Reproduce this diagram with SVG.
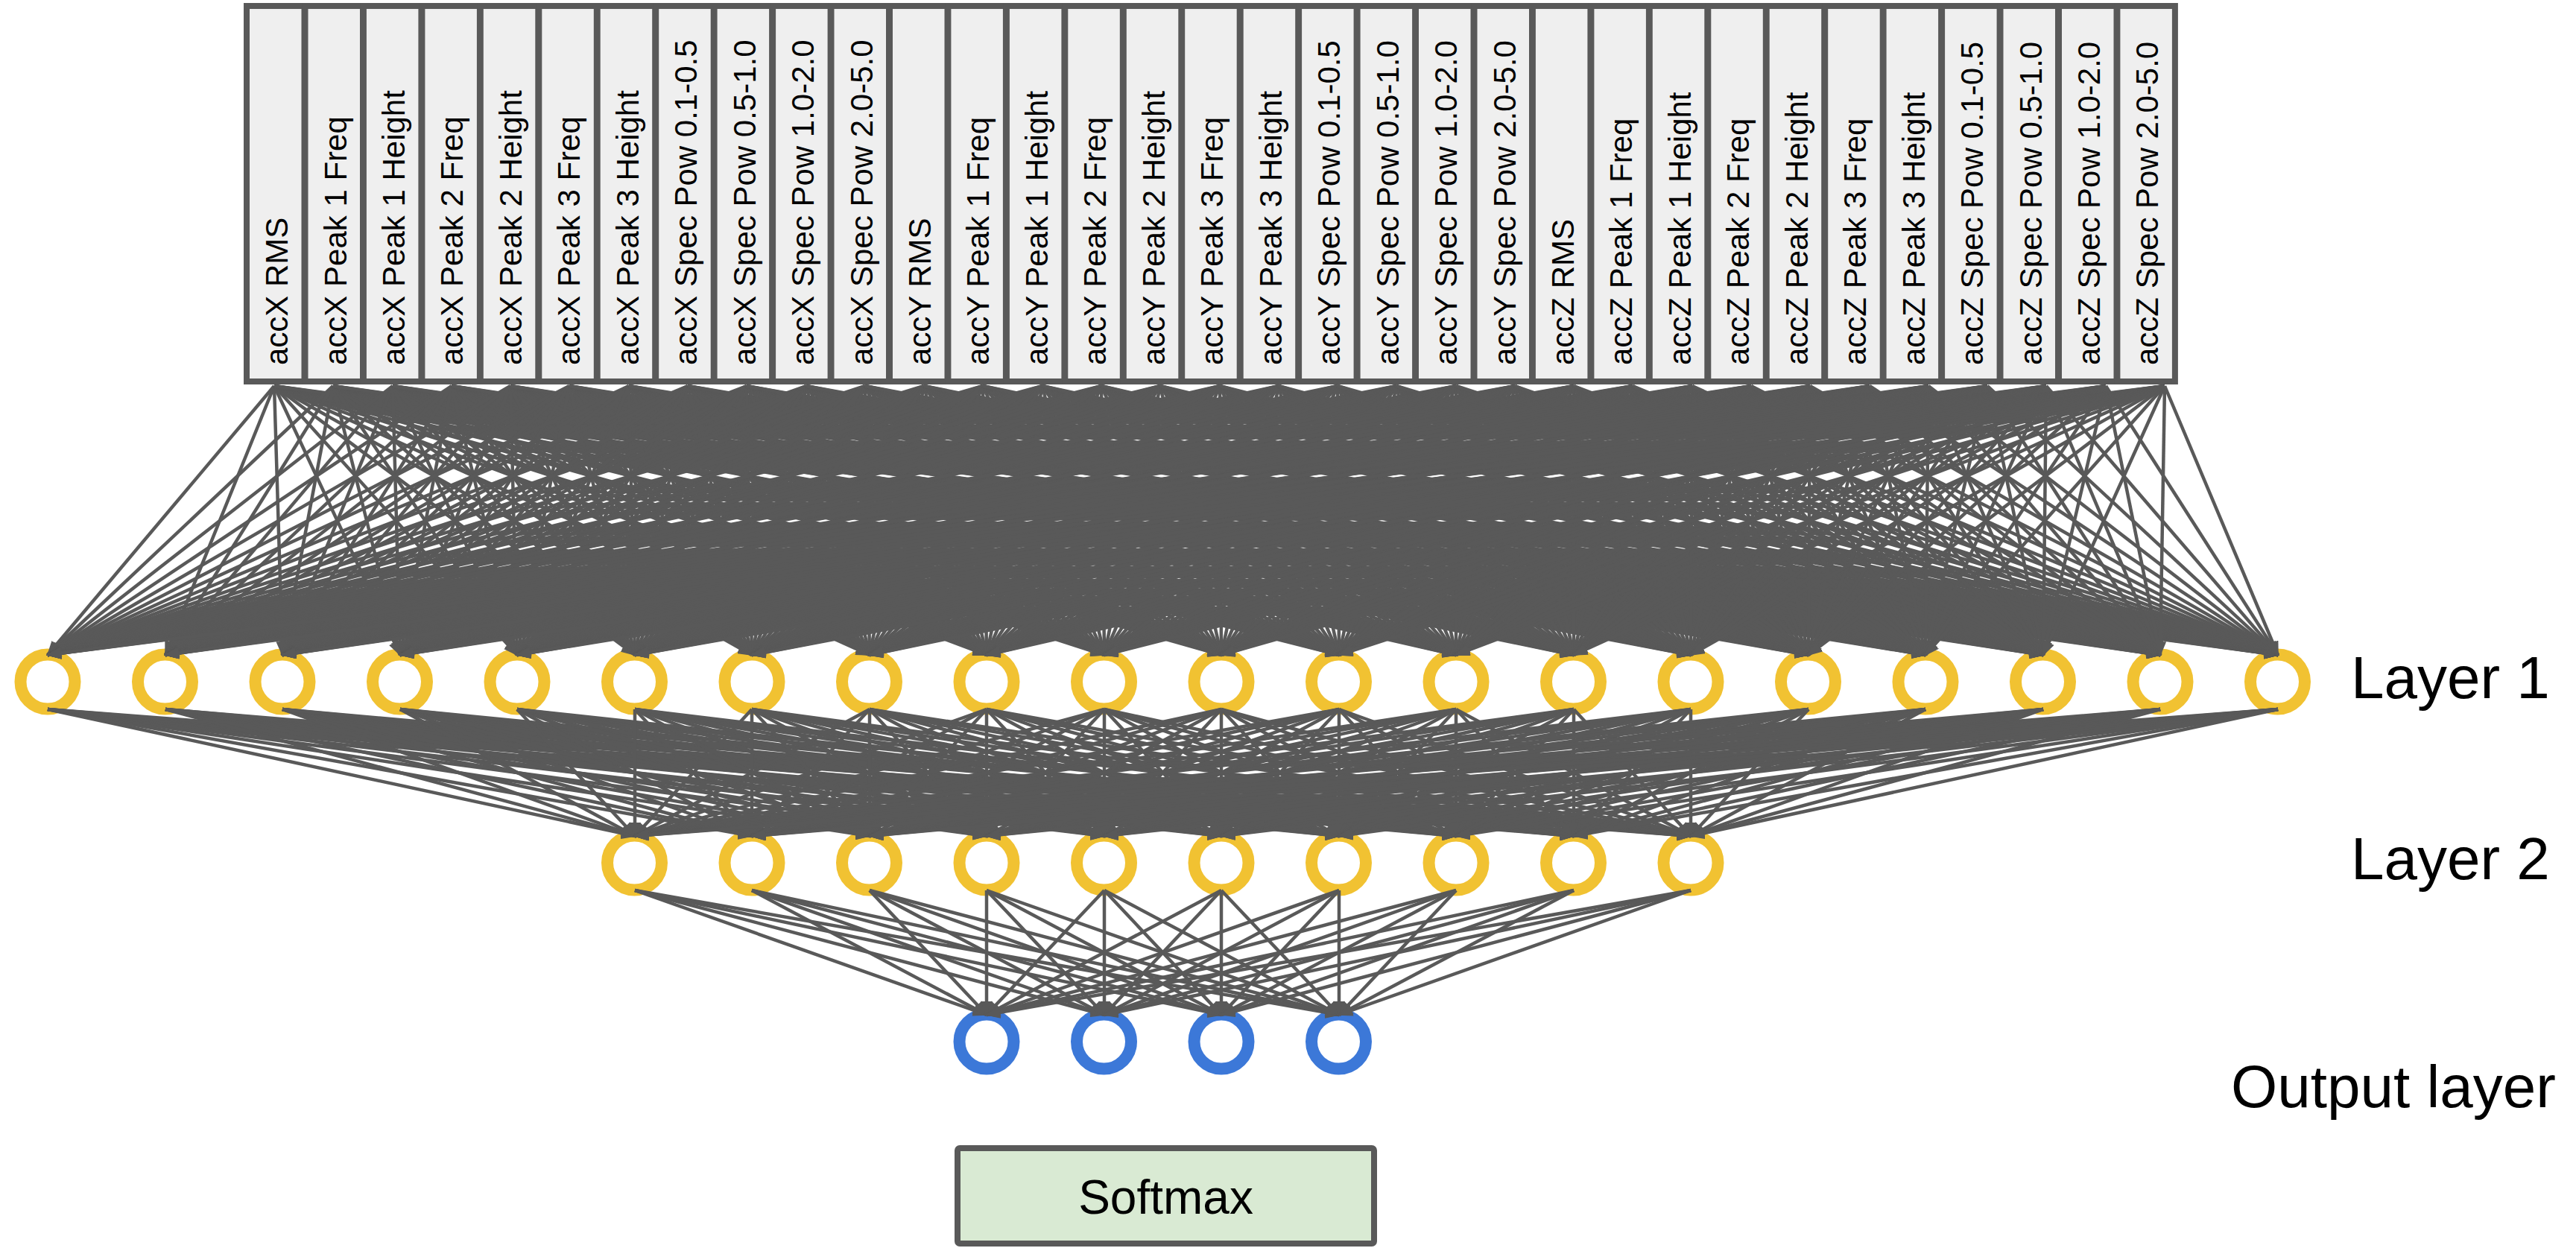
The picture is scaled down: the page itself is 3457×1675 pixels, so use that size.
<svg xmlns="http://www.w3.org/2000/svg" width="3457" height="1675" viewBox="0 0 3457 1675">
<style>
.in rect{fill:#efefef;stroke:#595959;stroke-width:8}
.in text{font-family:"Liberation Sans",Arial,sans-serif;font-size:42px;fill:#000}
.y circle{fill:none;stroke:#f1c232;stroke-width:16}
.b circle{fill:none;stroke:#3c78d8;stroke-width:16}
.lbl{font-family:"Liberation Sans",Arial,sans-serif;font-size:80px;fill:#000}
#edges path{fill:none;stroke:#595959;stroke-width:4.5;marker-end:url(#ah)}
</style>
<defs>
<marker id="ah" viewBox="0 0 20 16" refX="18" refY="8" markerWidth="20" markerHeight="16" markerUnits="userSpaceOnUse" orient="auto"><path d="M0 0L20 8L0 16z" fill="#595959"/></marker>
</defs>
<rect width="3457" height="1675" fill="#fff"/>
<g id="inputs" class="in">
<g id="in0" transform="translate(331 8)"><rect width="77.5" height="504"/><text transform="translate(55 482) rotate(-90)">accX RMS</text></g>
<g id="in1" transform="translate(409.5 8)"><rect width="77.5" height="504"/><text transform="translate(55 482) rotate(-90)">accX Peak 1 Freq</text></g>
<g id="in2" transform="translate(487.9 8)"><rect width="77.5" height="504"/><text transform="translate(55 482) rotate(-90)">accX Peak 1 Height</text></g>
<g id="in3" transform="translate(566.4 8)"><rect width="77.5" height="504"/><text transform="translate(55 482) rotate(-90)">accX Peak 2 Freq</text></g>
<g id="in4" transform="translate(644.8 8)"><rect width="77.5" height="504"/><text transform="translate(55 482) rotate(-90)">accX Peak 2 Height</text></g>
<g id="in5" transform="translate(723.3 8)"><rect width="77.5" height="504"/><text transform="translate(55 482) rotate(-90)">accX Peak 3 Freq</text></g>
<g id="in6" transform="translate(801.7 8)"><rect width="77.5" height="504"/><text transform="translate(55 482) rotate(-90)">accX Peak 3 Height</text></g>
<g id="in7" transform="translate(880.2 8)"><rect width="77.5" height="504"/><text transform="translate(55 482) rotate(-90)">accX Spec Pow 0.1-0.5</text></g>
<g id="in8" transform="translate(958.6 8)"><rect width="77.5" height="504"/><text transform="translate(55 482) rotate(-90)">accX Spec Pow 0.5-1.0</text></g>
<g id="in9" transform="translate(1037.1 8)"><rect width="77.5" height="504"/><text transform="translate(55 482) rotate(-90)">accX Spec Pow 1.0-2.0</text></g>
<g id="in10" transform="translate(1115.5 8)"><rect width="77.5" height="504"/><text transform="translate(55 482) rotate(-90)">accX Spec Pow 2.0-5.0</text></g>
<g id="in11" transform="translate(1194 8)"><rect width="77.5" height="504"/><text transform="translate(55 482) rotate(-90)">accY RMS</text></g>
<g id="in12" transform="translate(1272.4 8)"><rect width="77.5" height="504"/><text transform="translate(55 482) rotate(-90)">accY Peak 1 Freq</text></g>
<g id="in13" transform="translate(1350.9 8)"><rect width="77.5" height="504"/><text transform="translate(55 482) rotate(-90)">accY Peak 1 Height</text></g>
<g id="in14" transform="translate(1429.3 8)"><rect width="77.5" height="504"/><text transform="translate(55 482) rotate(-90)">accY Peak 2 Freq</text></g>
<g id="in15" transform="translate(1507.8 8)"><rect width="77.5" height="504"/><text transform="translate(55 482) rotate(-90)">accY Peak 2 Height</text></g>
<g id="in16" transform="translate(1586.2 8)"><rect width="77.5" height="504"/><text transform="translate(55 482) rotate(-90)">accY Peak 3 Freq</text></g>
<g id="in17" transform="translate(1664.7 8)"><rect width="77.5" height="504"/><text transform="translate(55 482) rotate(-90)">accY Peak 3 Height</text></g>
<g id="in18" transform="translate(1743.1 8)"><rect width="77.5" height="504"/><text transform="translate(55 482) rotate(-90)">accY Spec Pow 0.1-0.5</text></g>
<g id="in19" transform="translate(1821.6 8)"><rect width="77.5" height="504"/><text transform="translate(55 482) rotate(-90)">accY Spec Pow 0.5-1.0</text></g>
<g id="in20" transform="translate(1900 8)"><rect width="77.5" height="504"/><text transform="translate(55 482) rotate(-90)">accY Spec Pow 1.0-2.0</text></g>
<g id="in21" transform="translate(1978.5 8)"><rect width="77.5" height="504"/><text transform="translate(55 482) rotate(-90)">accY Spec Pow 2.0-5.0</text></g>
<g id="in22" transform="translate(2056.9 8)"><rect width="77.5" height="504"/><text transform="translate(55 482) rotate(-90)">accZ RMS</text></g>
<g id="in23" transform="translate(2135.4 8)"><rect width="77.5" height="504"/><text transform="translate(55 482) rotate(-90)">accZ Peak 1 Freq</text></g>
<g id="in24" transform="translate(2213.8 8)"><rect width="77.5" height="504"/><text transform="translate(55 482) rotate(-90)">accZ Peak 1 Height</text></g>
<g id="in25" transform="translate(2292.3 8)"><rect width="77.5" height="504"/><text transform="translate(55 482) rotate(-90)">accZ Peak 2 Freq</text></g>
<g id="in26" transform="translate(2370.7 8)"><rect width="77.5" height="504"/><text transform="translate(55 482) rotate(-90)">accZ Peak 2 Height</text></g>
<g id="in27" transform="translate(2449.2 8)"><rect width="77.5" height="504"/><text transform="translate(55 482) rotate(-90)">accZ Peak 3 Freq</text></g>
<g id="in28" transform="translate(2527.6 8)"><rect width="77.5" height="504"/><text transform="translate(55 482) rotate(-90)">accZ Peak 3 Height</text></g>
<g id="in29" transform="translate(2606.1 8)"><rect width="77.5" height="504"/><text transform="translate(55 482) rotate(-90)">accZ Spec Pow 0.1-0.5</text></g>
<g id="in30" transform="translate(2684.5 8)"><rect width="77.5" height="504"/><text transform="translate(55 482) rotate(-90)">accZ Spec Pow 0.5-1.0</text></g>
<g id="in31" transform="translate(2763 8)"><rect width="77.5" height="504"/><text transform="translate(55 482) rotate(-90)">accZ Spec Pow 1.0-2.0</text></g>
<g id="in32" transform="translate(2841.4 8)"><rect width="77.5" height="504"/><text transform="translate(55 482) rotate(-90)">accZ Spec Pow 2.0-5.0</text></g>
</g>
<g id="layer1" class="y">
<g id="h1_0"><circle cx="64" cy="915" r="36.5"/></g>
<g id="h1_1"><circle cx="221.5" cy="915" r="36.5"/></g>
<g id="h1_2"><circle cx="379" cy="915" r="36.5"/></g>
<g id="h1_3"><circle cx="536.5" cy="915" r="36.5"/></g>
<g id="h1_4"><circle cx="694" cy="915" r="36.5"/></g>
<g id="h1_5"><circle cx="851.5" cy="915" r="36.5"/></g>
<g id="h1_6"><circle cx="1009" cy="915" r="36.5"/></g>
<g id="h1_7"><circle cx="1166.5" cy="915" r="36.5"/></g>
<g id="h1_8"><circle cx="1324" cy="915" r="36.5"/></g>
<g id="h1_9"><circle cx="1481.5" cy="915" r="36.5"/></g>
<g id="h1_10"><circle cx="1639" cy="915" r="36.5"/></g>
<g id="h1_11"><circle cx="1796.5" cy="915" r="36.5"/></g>
<g id="h1_12"><circle cx="1954" cy="915" r="36.5"/></g>
<g id="h1_13"><circle cx="2111.5" cy="915" r="36.5"/></g>
<g id="h1_14"><circle cx="2269" cy="915" r="36.5"/></g>
<g id="h1_15"><circle cx="2426.5" cy="915" r="36.5"/></g>
<g id="h1_16"><circle cx="2584" cy="915" r="36.5"/></g>
<g id="h1_17"><circle cx="2741.5" cy="915" r="36.5"/></g>
<g id="h1_18"><circle cx="2899" cy="915" r="36.5"/></g>
<g id="h1_19"><circle cx="3056.5" cy="915" r="36.5"/></g>
</g>
<g id="layer2" class="y">
<g id="h2_0"><circle cx="851.5" cy="1158" r="36.5"/></g>
<g id="h2_1"><circle cx="1009" cy="1158" r="36.5"/></g>
<g id="h2_2"><circle cx="1166.5" cy="1158" r="36.5"/></g>
<g id="h2_3"><circle cx="1324" cy="1158" r="36.5"/></g>
<g id="h2_4"><circle cx="1481.5" cy="1158" r="36.5"/></g>
<g id="h2_5"><circle cx="1639" cy="1158" r="36.5"/></g>
<g id="h2_6"><circle cx="1796.5" cy="1158" r="36.5"/></g>
<g id="h2_7"><circle cx="1954" cy="1158" r="36.5"/></g>
<g id="h2_8"><circle cx="2111.5" cy="1158" r="36.5"/></g>
<g id="h2_9"><circle cx="2269" cy="1158" r="36.5"/></g>
</g>
<g id="outputs" class="b">
<g id="o0"><circle cx="1324" cy="1398" r="36.5"/></g>
<g id="o1"><circle cx="1481.5" cy="1398" r="36.5"/></g>
<g id="o2"><circle cx="1639" cy="1398" r="36.5"/></g>
<g id="o3"><circle cx="1796.5" cy="1398" r="36.5"/></g>
</g>
<g id="softmax"><rect x="1285" y="1541" width="559" height="128" rx="3" fill="#d9ead3" stroke="#595959" stroke-width="8"/><text x="1564.5" y="1629" text-anchor="middle" font-family="Liberation Sans, Arial, sans-serif" font-size="64">Softmax</text></g>
<g id="labels">
<text class="lbl" x="3155" y="937">Layer 1</text>
<text class="lbl" x="3155" y="1180">Layer 2</text>
<text class="lbl" x="2994" y="1486">Output layer</text>
</g>
<g id="edges">
<path d="M368 518L64 879"/><path d="M368 518L222 879"/><path d="M368 518L379 879"/><path d="M368 518L537 879"/><path d="M368 518L694 879"/><path d="M368 518L852 879"/><path d="M368 518L1009 879"/><path d="M368 518L1167 879"/><path d="M368 518L1324 879"/><path d="M368 518L1482 879"/><path d="M368 518L1639 879"/><path d="M368 518L1797 879"/><path d="M368 518L1954 879"/><path d="M368 518L2112 879"/><path d="M368 518L2269 879"/><path d="M368 518L2427 879"/><path d="M368 518L2584 879"/><path d="M368 518L2742 879"/><path d="M368 518L2899 879"/><path d="M368 518L3057 879"/>
<path d="M447 518L64 879"/><path d="M447 518L222 879"/><path d="M447 518L379 879"/><path d="M447 518L537 879"/><path d="M447 518L694 879"/><path d="M447 518L852 879"/><path d="M447 518L1009 879"/><path d="M447 518L1167 879"/><path d="M447 518L1324 879"/><path d="M447 518L1482 879"/><path d="M447 518L1639 879"/><path d="M447 518L1797 879"/><path d="M447 518L1954 879"/><path d="M447 518L2112 879"/><path d="M447 518L2269 879"/><path d="M447 518L2427 879"/><path d="M447 518L2584 879"/><path d="M447 518L2742 879"/><path d="M447 518L2899 879"/><path d="M447 518L3057 879"/>
<path d="M527 518L64 879"/><path d="M527 518L222 879"/><path d="M527 518L379 879"/><path d="M527 518L537 879"/><path d="M527 518L694 879"/><path d="M527 518L852 879"/><path d="M527 518L1009 879"/><path d="M527 518L1167 879"/><path d="M527 518L1324 879"/><path d="M527 518L1482 879"/><path d="M527 518L1639 879"/><path d="M527 518L1797 879"/><path d="M527 518L1954 879"/><path d="M527 518L2112 879"/><path d="M527 518L2269 879"/><path d="M527 518L2427 879"/><path d="M527 518L2584 879"/><path d="M527 518L2742 879"/><path d="M527 518L2899 879"/><path d="M527 518L3057 879"/>
<path d="M606 518L64 879"/><path d="M606 518L222 879"/><path d="M606 518L379 879"/><path d="M606 518L537 879"/><path d="M606 518L694 879"/><path d="M606 518L852 879"/><path d="M606 518L1009 879"/><path d="M606 518L1167 879"/><path d="M606 518L1324 879"/><path d="M606 518L1482 879"/><path d="M606 518L1639 879"/><path d="M606 518L1797 879"/><path d="M606 518L1954 879"/><path d="M606 518L2112 879"/><path d="M606 518L2269 879"/><path d="M606 518L2427 879"/><path d="M606 518L2584 879"/><path d="M606 518L2742 879"/><path d="M606 518L2899 879"/><path d="M606 518L3057 879"/>
<path d="M685 518L64 879"/><path d="M685 518L222 879"/><path d="M685 518L379 879"/><path d="M685 518L537 879"/><path d="M685 518L694 879"/><path d="M685 518L852 879"/><path d="M685 518L1009 879"/><path d="M685 518L1167 879"/><path d="M685 518L1324 879"/><path d="M685 518L1482 879"/><path d="M685 518L1639 879"/><path d="M685 518L1797 879"/><path d="M685 518L1954 879"/><path d="M685 518L2112 879"/><path d="M685 518L2269 879"/><path d="M685 518L2427 879"/><path d="M685 518L2584 879"/><path d="M685 518L2742 879"/><path d="M685 518L2899 879"/><path d="M685 518L3057 879"/>
<path d="M764 518L64 879"/><path d="M764 518L222 879"/><path d="M764 518L379 879"/><path d="M764 518L537 879"/><path d="M764 518L694 879"/><path d="M764 518L852 879"/><path d="M764 518L1009 879"/><path d="M764 518L1167 879"/><path d="M764 518L1324 879"/><path d="M764 518L1482 879"/><path d="M764 518L1639 879"/><path d="M764 518L1797 879"/><path d="M764 518L1954 879"/><path d="M764 518L2112 879"/><path d="M764 518L2269 879"/><path d="M764 518L2427 879"/><path d="M764 518L2584 879"/><path d="M764 518L2742 879"/><path d="M764 518L2899 879"/><path d="M764 518L3057 879"/>
<path d="M844 518L64 879"/><path d="M844 518L222 879"/><path d="M844 518L379 879"/><path d="M844 518L537 879"/><path d="M844 518L694 879"/><path d="M844 518L852 879"/><path d="M844 518L1009 879"/><path d="M844 518L1167 879"/><path d="M844 518L1324 879"/><path d="M844 518L1482 879"/><path d="M844 518L1639 879"/><path d="M844 518L1797 879"/><path d="M844 518L1954 879"/><path d="M844 518L2112 879"/><path d="M844 518L2269 879"/><path d="M844 518L2427 879"/><path d="M844 518L2584 879"/><path d="M844 518L2742 879"/><path d="M844 518L2899 879"/><path d="M844 518L3057 879"/>
<path d="M923 518L64 879"/><path d="M923 518L222 879"/><path d="M923 518L379 879"/><path d="M923 518L537 879"/><path d="M923 518L694 879"/><path d="M923 518L852 879"/><path d="M923 518L1009 879"/><path d="M923 518L1167 879"/><path d="M923 518L1324 879"/><path d="M923 518L1482 879"/><path d="M923 518L1639 879"/><path d="M923 518L1797 879"/><path d="M923 518L1954 879"/><path d="M923 518L2112 879"/><path d="M923 518L2269 879"/><path d="M923 518L2427 879"/><path d="M923 518L2584 879"/><path d="M923 518L2742 879"/><path d="M923 518L2899 879"/><path d="M923 518L3057 879"/>
<path d="M1002 518L64 879"/><path d="M1002 518L222 879"/><path d="M1002 518L379 879"/><path d="M1002 518L537 879"/><path d="M1002 518L694 879"/><path d="M1002 518L852 879"/><path d="M1002 518L1009 879"/><path d="M1002 518L1167 879"/><path d="M1002 518L1324 879"/><path d="M1002 518L1482 879"/><path d="M1002 518L1639 879"/><path d="M1002 518L1797 879"/><path d="M1002 518L1954 879"/><path d="M1002 518L2112 879"/><path d="M1002 518L2269 879"/><path d="M1002 518L2427 879"/><path d="M1002 518L2584 879"/><path d="M1002 518L2742 879"/><path d="M1002 518L2899 879"/><path d="M1002 518L3057 879"/>
<path d="M1082 518L64 879"/><path d="M1082 518L222 879"/><path d="M1082 518L379 879"/><path d="M1082 518L537 879"/><path d="M1082 518L694 879"/><path d="M1082 518L852 879"/><path d="M1082 518L1009 879"/><path d="M1082 518L1167 879"/><path d="M1082 518L1324 879"/><path d="M1082 518L1482 879"/><path d="M1082 518L1639 879"/><path d="M1082 518L1797 879"/><path d="M1082 518L1954 879"/><path d="M1082 518L2112 879"/><path d="M1082 518L2269 879"/><path d="M1082 518L2427 879"/><path d="M1082 518L2584 879"/><path d="M1082 518L2742 879"/><path d="M1082 518L2899 879"/><path d="M1082 518L3057 879"/>
<path d="M1161 518L64 879"/><path d="M1161 518L222 879"/><path d="M1161 518L379 879"/><path d="M1161 518L537 879"/><path d="M1161 518L694 879"/><path d="M1161 518L852 879"/><path d="M1161 518L1009 879"/><path d="M1161 518L1167 879"/><path d="M1161 518L1324 879"/><path d="M1161 518L1482 879"/><path d="M1161 518L1639 879"/><path d="M1161 518L1797 879"/><path d="M1161 518L1954 879"/><path d="M1161 518L2112 879"/><path d="M1161 518L2269 879"/><path d="M1161 518L2427 879"/><path d="M1161 518L2584 879"/><path d="M1161 518L2742 879"/><path d="M1161 518L2899 879"/><path d="M1161 518L3057 879"/>
<path d="M1240 518L64 879"/><path d="M1240 518L222 879"/><path d="M1240 518L379 879"/><path d="M1240 518L537 879"/><path d="M1240 518L694 879"/><path d="M1240 518L852 879"/><path d="M1240 518L1009 879"/><path d="M1240 518L1167 879"/><path d="M1240 518L1324 879"/><path d="M1240 518L1482 879"/><path d="M1240 518L1639 879"/><path d="M1240 518L1797 879"/><path d="M1240 518L1954 879"/><path d="M1240 518L2112 879"/><path d="M1240 518L2269 879"/><path d="M1240 518L2427 879"/><path d="M1240 518L2584 879"/><path d="M1240 518L2742 879"/><path d="M1240 518L2899 879"/><path d="M1240 518L3057 879"/>
<path d="M1319 518L64 879"/><path d="M1319 518L222 879"/><path d="M1319 518L379 879"/><path d="M1319 518L537 879"/><path d="M1319 518L694 879"/><path d="M1319 518L852 879"/><path d="M1319 518L1009 879"/><path d="M1319 518L1167 879"/><path d="M1319 518L1324 879"/><path d="M1319 518L1482 879"/><path d="M1319 518L1639 879"/><path d="M1319 518L1797 879"/><path d="M1319 518L1954 879"/><path d="M1319 518L2112 879"/><path d="M1319 518L2269 879"/><path d="M1319 518L2427 879"/><path d="M1319 518L2584 879"/><path d="M1319 518L2742 879"/><path d="M1319 518L2899 879"/><path d="M1319 518L3057 879"/>
<path d="M1399 518L64 879"/><path d="M1399 518L222 879"/><path d="M1399 518L379 879"/><path d="M1399 518L537 879"/><path d="M1399 518L694 879"/><path d="M1399 518L852 879"/><path d="M1399 518L1009 879"/><path d="M1399 518L1167 879"/><path d="M1399 518L1324 879"/><path d="M1399 518L1482 879"/><path d="M1399 518L1639 879"/><path d="M1399 518L1797 879"/><path d="M1399 518L1954 879"/><path d="M1399 518L2112 879"/><path d="M1399 518L2269 879"/><path d="M1399 518L2427 879"/><path d="M1399 518L2584 879"/><path d="M1399 518L2742 879"/><path d="M1399 518L2899 879"/><path d="M1399 518L3057 879"/>
<path d="M1478 518L64 879"/><path d="M1478 518L222 879"/><path d="M1478 518L379 879"/><path d="M1478 518L537 879"/><path d="M1478 518L694 879"/><path d="M1478 518L852 879"/><path d="M1478 518L1009 879"/><path d="M1478 518L1167 879"/><path d="M1478 518L1324 879"/><path d="M1478 518L1482 879"/><path d="M1478 518L1639 879"/><path d="M1478 518L1797 879"/><path d="M1478 518L1954 879"/><path d="M1478 518L2112 879"/><path d="M1478 518L2269 879"/><path d="M1478 518L2427 879"/><path d="M1478 518L2584 879"/><path d="M1478 518L2742 879"/><path d="M1478 518L2899 879"/><path d="M1478 518L3057 879"/>
<path d="M1557 518L64 879"/><path d="M1557 518L222 879"/><path d="M1557 518L379 879"/><path d="M1557 518L537 879"/><path d="M1557 518L694 879"/><path d="M1557 518L852 879"/><path d="M1557 518L1009 879"/><path d="M1557 518L1167 879"/><path d="M1557 518L1324 879"/><path d="M1557 518L1482 879"/><path d="M1557 518L1639 879"/><path d="M1557 518L1797 879"/><path d="M1557 518L1954 879"/><path d="M1557 518L2112 879"/><path d="M1557 518L2269 879"/><path d="M1557 518L2427 879"/><path d="M1557 518L2584 879"/><path d="M1557 518L2742 879"/><path d="M1557 518L2899 879"/><path d="M1557 518L3057 879"/>
<path d="M1637 518L64 879"/><path d="M1637 518L222 879"/><path d="M1637 518L379 879"/><path d="M1637 518L537 879"/><path d="M1637 518L694 879"/><path d="M1637 518L852 879"/><path d="M1637 518L1009 879"/><path d="M1637 518L1167 879"/><path d="M1637 518L1324 879"/><path d="M1637 518L1482 879"/><path d="M1637 518L1639 879"/><path d="M1637 518L1797 879"/><path d="M1637 518L1954 879"/><path d="M1637 518L2112 879"/><path d="M1637 518L2269 879"/><path d="M1637 518L2427 879"/><path d="M1637 518L2584 879"/><path d="M1637 518L2742 879"/><path d="M1637 518L2899 879"/><path d="M1637 518L3057 879"/>
<path d="M1716 518L64 879"/><path d="M1716 518L222 879"/><path d="M1716 518L379 879"/><path d="M1716 518L537 879"/><path d="M1716 518L694 879"/><path d="M1716 518L852 879"/><path d="M1716 518L1009 879"/><path d="M1716 518L1167 879"/><path d="M1716 518L1324 879"/><path d="M1716 518L1482 879"/><path d="M1716 518L1639 879"/><path d="M1716 518L1797 879"/><path d="M1716 518L1954 879"/><path d="M1716 518L2112 879"/><path d="M1716 518L2269 879"/><path d="M1716 518L2427 879"/><path d="M1716 518L2584 879"/><path d="M1716 518L2742 879"/><path d="M1716 518L2899 879"/><path d="M1716 518L3057 879"/>
<path d="M1795 518L64 879"/><path d="M1795 518L222 879"/><path d="M1795 518L379 879"/><path d="M1795 518L537 879"/><path d="M1795 518L694 879"/><path d="M1795 518L852 879"/><path d="M1795 518L1009 879"/><path d="M1795 518L1167 879"/><path d="M1795 518L1324 879"/><path d="M1795 518L1482 879"/><path d="M1795 518L1639 879"/><path d="M1795 518L1797 879"/><path d="M1795 518L1954 879"/><path d="M1795 518L2112 879"/><path d="M1795 518L2269 879"/><path d="M1795 518L2427 879"/><path d="M1795 518L2584 879"/><path d="M1795 518L2742 879"/><path d="M1795 518L2899 879"/><path d="M1795 518L3057 879"/>
<path d="M1874 518L64 879"/><path d="M1874 518L222 879"/><path d="M1874 518L379 879"/><path d="M1874 518L537 879"/><path d="M1874 518L694 879"/><path d="M1874 518L852 879"/><path d="M1874 518L1009 879"/><path d="M1874 518L1167 879"/><path d="M1874 518L1324 879"/><path d="M1874 518L1482 879"/><path d="M1874 518L1639 879"/><path d="M1874 518L1797 879"/><path d="M1874 518L1954 879"/><path d="M1874 518L2112 879"/><path d="M1874 518L2269 879"/><path d="M1874 518L2427 879"/><path d="M1874 518L2584 879"/><path d="M1874 518L2742 879"/><path d="M1874 518L2899 879"/><path d="M1874 518L3057 879"/>
<path d="M1954 518L64 879"/><path d="M1954 518L222 879"/><path d="M1954 518L379 879"/><path d="M1954 518L537 879"/><path d="M1954 518L694 879"/><path d="M1954 518L852 879"/><path d="M1954 518L1009 879"/><path d="M1954 518L1167 879"/><path d="M1954 518L1324 879"/><path d="M1954 518L1482 879"/><path d="M1954 518L1639 879"/><path d="M1954 518L1797 879"/><path d="M1954 518L1954 879"/><path d="M1954 518L2112 879"/><path d="M1954 518L2269 879"/><path d="M1954 518L2427 879"/><path d="M1954 518L2584 879"/><path d="M1954 518L2742 879"/><path d="M1954 518L2899 879"/><path d="M1954 518L3057 879"/>
<path d="M2033 518L64 879"/><path d="M2033 518L222 879"/><path d="M2033 518L379 879"/><path d="M2033 518L537 879"/><path d="M2033 518L694 879"/><path d="M2033 518L852 879"/><path d="M2033 518L1009 879"/><path d="M2033 518L1167 879"/><path d="M2033 518L1324 879"/><path d="M2033 518L1482 879"/><path d="M2033 518L1639 879"/><path d="M2033 518L1797 879"/><path d="M2033 518L1954 879"/><path d="M2033 518L2112 879"/><path d="M2033 518L2269 879"/><path d="M2033 518L2427 879"/><path d="M2033 518L2584 879"/><path d="M2033 518L2742 879"/><path d="M2033 518L2899 879"/><path d="M2033 518L3057 879"/>
<path d="M2112 518L64 879"/><path d="M2112 518L222 879"/><path d="M2112 518L379 879"/><path d="M2112 518L537 879"/><path d="M2112 518L694 879"/><path d="M2112 518L852 879"/><path d="M2112 518L1009 879"/><path d="M2112 518L1167 879"/><path d="M2112 518L1324 879"/><path d="M2112 518L1482 879"/><path d="M2112 518L1639 879"/><path d="M2112 518L1797 879"/><path d="M2112 518L1954 879"/><path d="M2112 518L2112 879"/><path d="M2112 518L2269 879"/><path d="M2112 518L2427 879"/><path d="M2112 518L2584 879"/><path d="M2112 518L2742 879"/><path d="M2112 518L2899 879"/><path d="M2112 518L3057 879"/>
<path d="M2191 518L64 879"/><path d="M2191 518L222 879"/><path d="M2191 518L379 879"/><path d="M2191 518L537 879"/><path d="M2191 518L694 879"/><path d="M2191 518L852 879"/><path d="M2191 518L1009 879"/><path d="M2191 518L1167 879"/><path d="M2191 518L1324 879"/><path d="M2191 518L1482 879"/><path d="M2191 518L1639 879"/><path d="M2191 518L1797 879"/><path d="M2191 518L1954 879"/><path d="M2191 518L2112 879"/><path d="M2191 518L2269 879"/><path d="M2191 518L2427 879"/><path d="M2191 518L2584 879"/><path d="M2191 518L2742 879"/><path d="M2191 518L2899 879"/><path d="M2191 518L3057 879"/>
<path d="M2271 518L64 879"/><path d="M2271 518L222 879"/><path d="M2271 518L379 879"/><path d="M2271 518L537 879"/><path d="M2271 518L694 879"/><path d="M2271 518L852 879"/><path d="M2271 518L1009 879"/><path d="M2271 518L1167 879"/><path d="M2271 518L1324 879"/><path d="M2271 518L1482 879"/><path d="M2271 518L1639 879"/><path d="M2271 518L1797 879"/><path d="M2271 518L1954 879"/><path d="M2271 518L2112 879"/><path d="M2271 518L2269 879"/><path d="M2271 518L2427 879"/><path d="M2271 518L2584 879"/><path d="M2271 518L2742 879"/><path d="M2271 518L2899 879"/><path d="M2271 518L3057 879"/>
<path d="M2350 518L64 879"/><path d="M2350 518L222 879"/><path d="M2350 518L379 879"/><path d="M2350 518L537 879"/><path d="M2350 518L694 879"/><path d="M2350 518L852 879"/><path d="M2350 518L1009 879"/><path d="M2350 518L1167 879"/><path d="M2350 518L1324 879"/><path d="M2350 518L1482 879"/><path d="M2350 518L1639 879"/><path d="M2350 518L1797 879"/><path d="M2350 518L1954 879"/><path d="M2350 518L2112 879"/><path d="M2350 518L2269 879"/><path d="M2350 518L2427 879"/><path d="M2350 518L2584 879"/><path d="M2350 518L2742 879"/><path d="M2350 518L2899 879"/><path d="M2350 518L3057 879"/>
<path d="M2429 518L64 879"/><path d="M2429 518L222 879"/><path d="M2429 518L379 879"/><path d="M2429 518L537 879"/><path d="M2429 518L694 879"/><path d="M2429 518L852 879"/><path d="M2429 518L1009 879"/><path d="M2429 518L1167 879"/><path d="M2429 518L1324 879"/><path d="M2429 518L1482 879"/><path d="M2429 518L1639 879"/><path d="M2429 518L1797 879"/><path d="M2429 518L1954 879"/><path d="M2429 518L2112 879"/><path d="M2429 518L2269 879"/><path d="M2429 518L2427 879"/><path d="M2429 518L2584 879"/><path d="M2429 518L2742 879"/><path d="M2429 518L2899 879"/><path d="M2429 518L3057 879"/>
<path d="M2509 518L64 879"/><path d="M2509 518L222 879"/><path d="M2509 518L379 879"/><path d="M2509 518L537 879"/><path d="M2509 518L694 879"/><path d="M2509 518L852 879"/><path d="M2509 518L1009 879"/><path d="M2509 518L1167 879"/><path d="M2509 518L1324 879"/><path d="M2509 518L1482 879"/><path d="M2509 518L1639 879"/><path d="M2509 518L1797 879"/><path d="M2509 518L1954 879"/><path d="M2509 518L2112 879"/><path d="M2509 518L2269 879"/><path d="M2509 518L2427 879"/><path d="M2509 518L2584 879"/><path d="M2509 518L2742 879"/><path d="M2509 518L2899 879"/><path d="M2509 518L3057 879"/>
<path d="M2588 518L64 879"/><path d="M2588 518L222 879"/><path d="M2588 518L379 879"/><path d="M2588 518L537 879"/><path d="M2588 518L694 879"/><path d="M2588 518L852 879"/><path d="M2588 518L1009 879"/><path d="M2588 518L1167 879"/><path d="M2588 518L1324 879"/><path d="M2588 518L1482 879"/><path d="M2588 518L1639 879"/><path d="M2588 518L1797 879"/><path d="M2588 518L1954 879"/><path d="M2588 518L2112 879"/><path d="M2588 518L2269 879"/><path d="M2588 518L2427 879"/><path d="M2588 518L2584 879"/><path d="M2588 518L2742 879"/><path d="M2588 518L2899 879"/><path d="M2588 518L3057 879"/>
<path d="M2667 518L64 879"/><path d="M2667 518L222 879"/><path d="M2667 518L379 879"/><path d="M2667 518L537 879"/><path d="M2667 518L694 879"/><path d="M2667 518L852 879"/><path d="M2667 518L1009 879"/><path d="M2667 518L1167 879"/><path d="M2667 518L1324 879"/><path d="M2667 518L1482 879"/><path d="M2667 518L1639 879"/><path d="M2667 518L1797 879"/><path d="M2667 518L1954 879"/><path d="M2667 518L2112 879"/><path d="M2667 518L2269 879"/><path d="M2667 518L2427 879"/><path d="M2667 518L2584 879"/><path d="M2667 518L2742 879"/><path d="M2667 518L2899 879"/><path d="M2667 518L3057 879"/>
<path d="M2746 518L64 879"/><path d="M2746 518L222 879"/><path d="M2746 518L379 879"/><path d="M2746 518L537 879"/><path d="M2746 518L694 879"/><path d="M2746 518L852 879"/><path d="M2746 518L1009 879"/><path d="M2746 518L1167 879"/><path d="M2746 518L1324 879"/><path d="M2746 518L1482 879"/><path d="M2746 518L1639 879"/><path d="M2746 518L1797 879"/><path d="M2746 518L1954 879"/><path d="M2746 518L2112 879"/><path d="M2746 518L2269 879"/><path d="M2746 518L2427 879"/><path d="M2746 518L2584 879"/><path d="M2746 518L2742 879"/><path d="M2746 518L2899 879"/><path d="M2746 518L3057 879"/>
<path d="M2826 518L64 879"/><path d="M2826 518L222 879"/><path d="M2826 518L379 879"/><path d="M2826 518L537 879"/><path d="M2826 518L694 879"/><path d="M2826 518L852 879"/><path d="M2826 518L1009 879"/><path d="M2826 518L1167 879"/><path d="M2826 518L1324 879"/><path d="M2826 518L1482 879"/><path d="M2826 518L1639 879"/><path d="M2826 518L1797 879"/><path d="M2826 518L1954 879"/><path d="M2826 518L2112 879"/><path d="M2826 518L2269 879"/><path d="M2826 518L2427 879"/><path d="M2826 518L2584 879"/><path d="M2826 518L2742 879"/><path d="M2826 518L2899 879"/><path d="M2826 518L3057 879"/>
<path d="M2905 518L64 879"/><path d="M2905 518L222 879"/><path d="M2905 518L379 879"/><path d="M2905 518L537 879"/><path d="M2905 518L694 879"/><path d="M2905 518L852 879"/><path d="M2905 518L1009 879"/><path d="M2905 518L1167 879"/><path d="M2905 518L1324 879"/><path d="M2905 518L1482 879"/><path d="M2905 518L1639 879"/><path d="M2905 518L1797 879"/><path d="M2905 518L1954 879"/><path d="M2905 518L2112 879"/><path d="M2905 518L2269 879"/><path d="M2905 518L2427 879"/><path d="M2905 518L2584 879"/><path d="M2905 518L2742 879"/><path d="M2905 518L2899 879"/><path d="M2905 518L3057 879"/>
<path d="M64 952L852 1122"/><path d="M64 952L1009 1122"/><path d="M64 952L1167 1122"/><path d="M64 952L1324 1122"/><path d="M64 952L1482 1122"/><path d="M64 952L1639 1122"/><path d="M64 952L1797 1122"/><path d="M64 952L1954 1122"/><path d="M64 952L2112 1122"/><path d="M64 952L2269 1122"/>
<path d="M222 952L852 1122"/><path d="M222 952L1009 1122"/><path d="M222 952L1167 1122"/><path d="M222 952L1324 1122"/><path d="M222 952L1482 1122"/><path d="M222 952L1639 1122"/><path d="M222 952L1797 1122"/><path d="M222 952L1954 1122"/><path d="M222 952L2112 1122"/><path d="M222 952L2269 1122"/>
<path d="M379 952L852 1122"/><path d="M379 952L1009 1122"/><path d="M379 952L1167 1122"/><path d="M379 952L1324 1122"/><path d="M379 952L1482 1122"/><path d="M379 952L1639 1122"/><path d="M379 952L1797 1122"/><path d="M379 952L1954 1122"/><path d="M379 952L2112 1122"/><path d="M379 952L2269 1122"/>
<path d="M537 952L852 1122"/><path d="M537 952L1009 1122"/><path d="M537 952L1167 1122"/><path d="M537 952L1324 1122"/><path d="M537 952L1482 1122"/><path d="M537 952L1639 1122"/><path d="M537 952L1797 1122"/><path d="M537 952L1954 1122"/><path d="M537 952L2112 1122"/><path d="M537 952L2269 1122"/>
<path d="M694 952L852 1122"/><path d="M694 952L1009 1122"/><path d="M694 952L1167 1122"/><path d="M694 952L1324 1122"/><path d="M694 952L1482 1122"/><path d="M694 952L1639 1122"/><path d="M694 952L1797 1122"/><path d="M694 952L1954 1122"/><path d="M694 952L2112 1122"/><path d="M694 952L2269 1122"/>
<path d="M852 952L852 1122"/><path d="M852 952L1009 1122"/><path d="M852 952L1167 1122"/><path d="M852 952L1324 1122"/><path d="M852 952L1482 1122"/><path d="M852 952L1639 1122"/><path d="M852 952L1797 1122"/><path d="M852 952L1954 1122"/><path d="M852 952L2112 1122"/><path d="M852 952L2269 1122"/>
<path d="M1009 952L852 1122"/><path d="M1009 952L1009 1122"/><path d="M1009 952L1167 1122"/><path d="M1009 952L1324 1122"/><path d="M1009 952L1482 1122"/><path d="M1009 952L1639 1122"/><path d="M1009 952L1797 1122"/><path d="M1009 952L1954 1122"/><path d="M1009 952L2112 1122"/><path d="M1009 952L2269 1122"/>
<path d="M1167 952L852 1122"/><path d="M1167 952L1009 1122"/><path d="M1167 952L1167 1122"/><path d="M1167 952L1324 1122"/><path d="M1167 952L1482 1122"/><path d="M1167 952L1639 1122"/><path d="M1167 952L1797 1122"/><path d="M1167 952L1954 1122"/><path d="M1167 952L2112 1122"/><path d="M1167 952L2269 1122"/>
<path d="M1324 952L852 1122"/><path d="M1324 952L1009 1122"/><path d="M1324 952L1167 1122"/><path d="M1324 952L1324 1122"/><path d="M1324 952L1482 1122"/><path d="M1324 952L1639 1122"/><path d="M1324 952L1797 1122"/><path d="M1324 952L1954 1122"/><path d="M1324 952L2112 1122"/><path d="M1324 952L2269 1122"/>
<path d="M1482 952L852 1122"/><path d="M1482 952L1009 1122"/><path d="M1482 952L1167 1122"/><path d="M1482 952L1324 1122"/><path d="M1482 952L1482 1122"/><path d="M1482 952L1639 1122"/><path d="M1482 952L1797 1122"/><path d="M1482 952L1954 1122"/><path d="M1482 952L2112 1122"/><path d="M1482 952L2269 1122"/>
<path d="M1639 952L852 1122"/><path d="M1639 952L1009 1122"/><path d="M1639 952L1167 1122"/><path d="M1639 952L1324 1122"/><path d="M1639 952L1482 1122"/><path d="M1639 952L1639 1122"/><path d="M1639 952L1797 1122"/><path d="M1639 952L1954 1122"/><path d="M1639 952L2112 1122"/><path d="M1639 952L2269 1122"/>
<path d="M1797 952L852 1122"/><path d="M1797 952L1009 1122"/><path d="M1797 952L1167 1122"/><path d="M1797 952L1324 1122"/><path d="M1797 952L1482 1122"/><path d="M1797 952L1639 1122"/><path d="M1797 952L1797 1122"/><path d="M1797 952L1954 1122"/><path d="M1797 952L2112 1122"/><path d="M1797 952L2269 1122"/>
<path d="M1954 952L852 1122"/><path d="M1954 952L1009 1122"/><path d="M1954 952L1167 1122"/><path d="M1954 952L1324 1122"/><path d="M1954 952L1482 1122"/><path d="M1954 952L1639 1122"/><path d="M1954 952L1797 1122"/><path d="M1954 952L1954 1122"/><path d="M1954 952L2112 1122"/><path d="M1954 952L2269 1122"/>
<path d="M2112 952L852 1122"/><path d="M2112 952L1009 1122"/><path d="M2112 952L1167 1122"/><path d="M2112 952L1324 1122"/><path d="M2112 952L1482 1122"/><path d="M2112 952L1639 1122"/><path d="M2112 952L1797 1122"/><path d="M2112 952L1954 1122"/><path d="M2112 952L2112 1122"/><path d="M2112 952L2269 1122"/>
<path d="M2269 952L852 1122"/><path d="M2269 952L1009 1122"/><path d="M2269 952L1167 1122"/><path d="M2269 952L1324 1122"/><path d="M2269 952L1482 1122"/><path d="M2269 952L1639 1122"/><path d="M2269 952L1797 1122"/><path d="M2269 952L1954 1122"/><path d="M2269 952L2112 1122"/><path d="M2269 952L2269 1122"/>
<path d="M2427 952L852 1122"/><path d="M2427 952L1009 1122"/><path d="M2427 952L1167 1122"/><path d="M2427 952L1324 1122"/><path d="M2427 952L1482 1122"/><path d="M2427 952L1639 1122"/><path d="M2427 952L1797 1122"/><path d="M2427 952L1954 1122"/><path d="M2427 952L2112 1122"/><path d="M2427 952L2269 1122"/>
<path d="M2584 952L852 1122"/><path d="M2584 952L1009 1122"/><path d="M2584 952L1167 1122"/><path d="M2584 952L1324 1122"/><path d="M2584 952L1482 1122"/><path d="M2584 952L1639 1122"/><path d="M2584 952L1797 1122"/><path d="M2584 952L1954 1122"/><path d="M2584 952L2112 1122"/><path d="M2584 952L2269 1122"/>
<path d="M2742 952L852 1122"/><path d="M2742 952L1009 1122"/><path d="M2742 952L1167 1122"/><path d="M2742 952L1324 1122"/><path d="M2742 952L1482 1122"/><path d="M2742 952L1639 1122"/><path d="M2742 952L1797 1122"/><path d="M2742 952L1954 1122"/><path d="M2742 952L2112 1122"/><path d="M2742 952L2269 1122"/>
<path d="M2899 952L852 1122"/><path d="M2899 952L1009 1122"/><path d="M2899 952L1167 1122"/><path d="M2899 952L1324 1122"/><path d="M2899 952L1482 1122"/><path d="M2899 952L1639 1122"/><path d="M2899 952L1797 1122"/><path d="M2899 952L1954 1122"/><path d="M2899 952L2112 1122"/><path d="M2899 952L2269 1122"/>
<path d="M3057 952L852 1122"/><path d="M3057 952L1009 1122"/><path d="M3057 952L1167 1122"/><path d="M3057 952L1324 1122"/><path d="M3057 952L1482 1122"/><path d="M3057 952L1639 1122"/><path d="M3057 952L1797 1122"/><path d="M3057 952L1954 1122"/><path d="M3057 952L2112 1122"/><path d="M3057 952L2269 1122"/>
<path d="M852 1195L1324 1362"/><path d="M852 1195L1482 1362"/><path d="M852 1195L1639 1362"/><path d="M852 1195L1797 1362"/>
<path d="M1009 1195L1324 1362"/><path d="M1009 1195L1482 1362"/><path d="M1009 1195L1639 1362"/><path d="M1009 1195L1797 1362"/>
<path d="M1167 1195L1324 1362"/><path d="M1167 1195L1482 1362"/><path d="M1167 1195L1639 1362"/><path d="M1167 1195L1797 1362"/>
<path d="M1324 1195L1324 1362"/><path d="M1324 1195L1482 1362"/><path d="M1324 1195L1639 1362"/><path d="M1324 1195L1797 1362"/>
<path d="M1482 1195L1324 1362"/><path d="M1482 1195L1482 1362"/><path d="M1482 1195L1639 1362"/><path d="M1482 1195L1797 1362"/>
<path d="M1639 1195L1324 1362"/><path d="M1639 1195L1482 1362"/><path d="M1639 1195L1639 1362"/><path d="M1639 1195L1797 1362"/>
<path d="M1797 1195L1324 1362"/><path d="M1797 1195L1482 1362"/><path d="M1797 1195L1639 1362"/><path d="M1797 1195L1797 1362"/>
<path d="M1954 1195L1324 1362"/><path d="M1954 1195L1482 1362"/><path d="M1954 1195L1639 1362"/><path d="M1954 1195L1797 1362"/>
<path d="M2112 1195L1324 1362"/><path d="M2112 1195L1482 1362"/><path d="M2112 1195L1639 1362"/><path d="M2112 1195L1797 1362"/>
<path d="M2269 1195L1324 1362"/><path d="M2269 1195L1482 1362"/><path d="M2269 1195L1639 1362"/><path d="M2269 1195L1797 1362"/>
</g>
</svg>
